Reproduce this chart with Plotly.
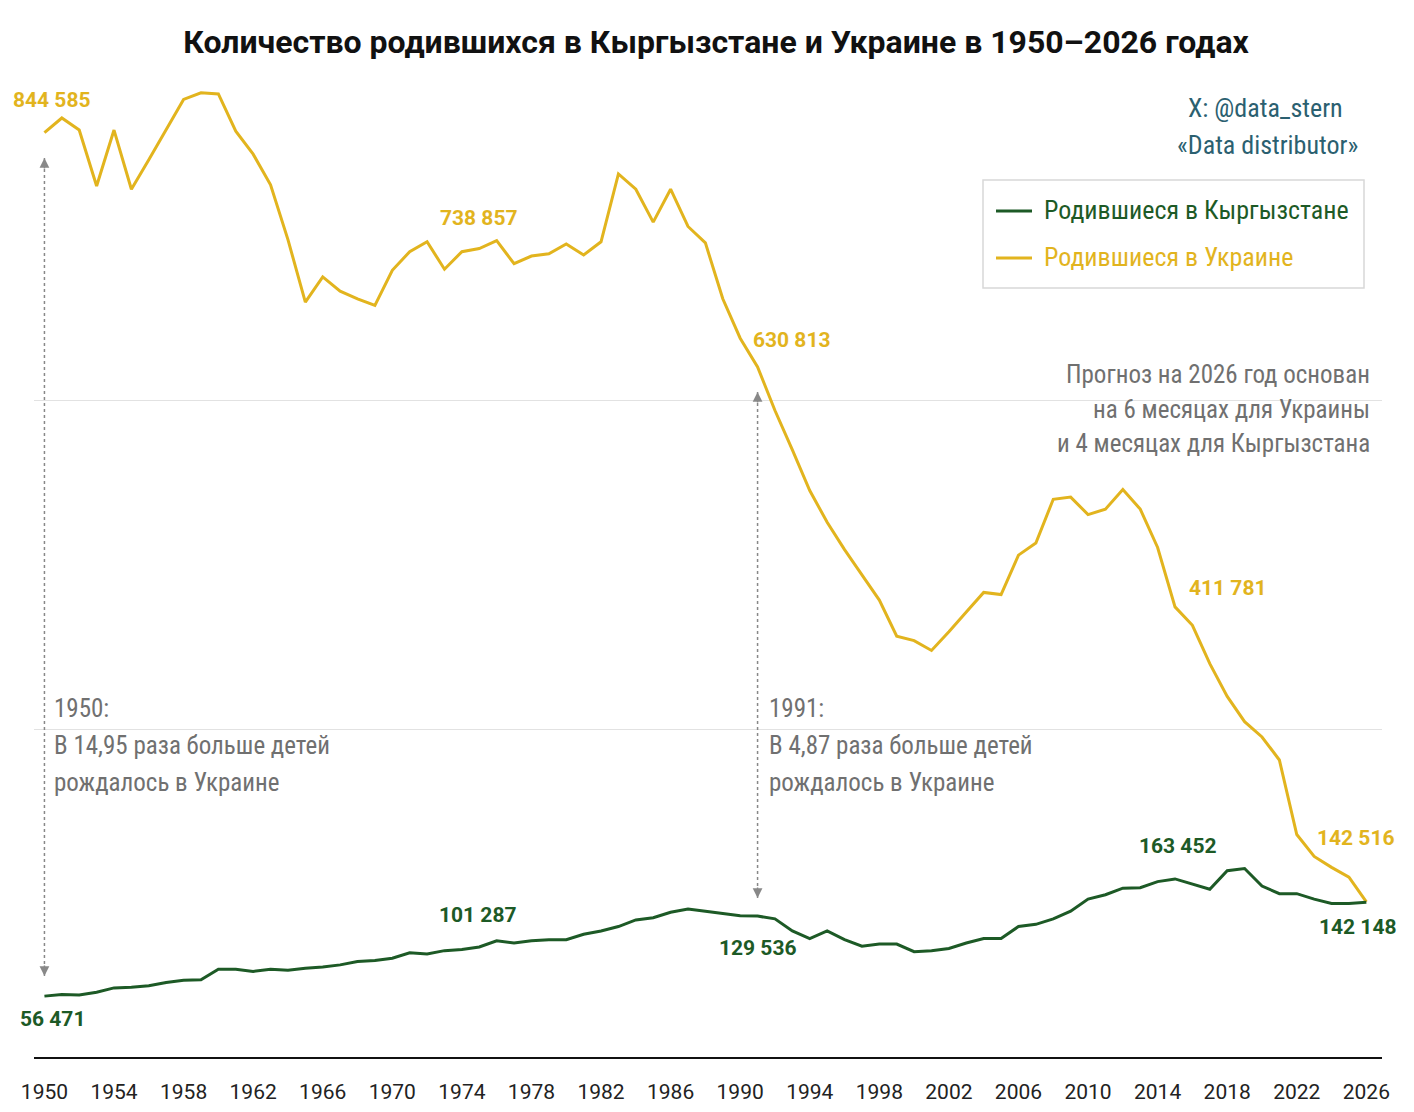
import plotly.graph_objects as go

years = list(range(1950, 2027))
ukraine = [844585, 858000, 847000, 796000, 847000, 793000, 820000, 847000, 875000, 881000,
           880000, 846000, 825000, 797000, 747000, 690000, 713000, 700000, 693000, 687000,
           719000, 736000, 745000, 720000, 736000, 738857, 746000, 725000, 732000, 734000,
           743000, 733000, 745000, 807000, 793000, 763000, 793000, 759000, 744000, 693000,
           657000, 630813, 591000, 555000, 518000, 489000, 464000, 441000, 418000, 385000,
           381000, 372000, 389000, 407000, 425000, 423000, 459000, 470000, 510000, 512000,
           496000, 501000, 519000, 501000, 466000, 411781, 395000, 360000, 330000, 307000,
           293000, 272000, 204000, 184000, 174000, 165000, 142516]
kyrgyz = [56471, 58000, 57500, 60000, 64000, 64500, 66000, 69000, 71000, 71500,
          81000, 81000, 79000, 81000, 80000, 82000, 83000, 85000, 88000, 89000,
          91000, 96000, 95000, 98000, 99000, 101287, 107000, 105000, 107000, 108000,
          108000, 113000, 116000, 120000, 126000, 128000, 133000, 136000, 134000, 132000,
          129800, 129536, 127000, 116000, 109000, 116000, 108000, 102000, 104000, 104000,
          97000, 98000, 100000, 105000, 109000, 109000, 120000, 122000, 127000, 134000,
          145000, 149000, 155000, 155500, 161000, 163452, 159000, 154000, 171000, 173000,
          157000, 150000, 150000, 145000, 141000, 141000, 142148]
tick_years = list(range(1950, 2027, 4))

YEL = "#e2b41e"
GRN = "#1d5a26"
GRAY = "#707070"
FONT = "Liberation Sans Narrow, Roboto Condensed, Roboto, sans-serif"

OFF = 8  # page offset
L, R, T, B = 34, 1382, 72, 1058
X0, X1 = 1949.4, 2026.9
def py2y(py): return (B - py) / (B - T) * 900000
def px2p(px): return (px - L) / (R - L)
def py2p(py): return (B - py) / (B - T)

fig = go.Figure()
fig.add_trace(go.Scatter(x=years, y=ukraine, mode="lines", line=dict(color=YEL, width=3), showlegend=False))
fig.add_trace(go.Scatter(x=years, y=kyrgyz, mode="lines", line=dict(color=GRN, width=3), showlegend=False))

ann = []
def lab(px, py, text, color, size=21, bold=True, xanchor="center", fam="Roboto"):
    ann.append(dict(x=px2p(px), y=py2p(py), xref="paper", yref="paper", text=f"<b>{text}</b>" if bold else text,
                    showarrow=False, font=dict(color=color, size=size, family=fam), xanchor=xanchor, yanchor="middle"))

for px, py, t in [(52, 100, "844 585"), (479, 218, "738 857"), (792, 340, "630 813"),
                  (1228, 588, "411 781"), (1356, 838, "142 516")]:
    lab(px, py, t, YEL)
for px, py, t in [(52, 1019, "56 471"), (478, 915, "101 287"), (758, 948, "129 536"),
                  (1178, 846, "163 452"), (1358, 927, "142 148")]:
    lab(px, py, t, GRN)

for px, lines in [(52, ["1950:", "В 14,95 раза больше детей", "рождалось в Украине"]),
                  (767, ["1991:", "В 4,87 раза больше детей", "рождалось в Украине"])]:
    for i, s in enumerate(lines):
        lab(px, 708 + 37 * i, s, GRAY, size=25, bold=False, xanchor="left", fam=FONT)
for i, s in enumerate(["Прогноз на 2026 год основан", "на 6 месяцах для Украины", "и 4 месяцах для Кыргызстана"]):
    lab(1372, 375 + 34 * i, s, GRAY, size=25, bold=False, xanchor="right", fam=FONT)
lab(1345, 108, "X: @data_stern", "#2b6070", size=26, bold=False, xanchor="right", fam=FONT)
lab(1360, 145, "«Data distributor»", "#2b6070", size=26, bold=False, xanchor="right", fam=FONT)
lab(1042, 210, "Родившиеся в Кыргызстане", GRN, size=26, bold=False, xanchor="left", fam=FONT)
lab(1042, 257, "Родившиеся в Украине", YEL, size=26, bold=False, xanchor="left", fam=FONT)

shapes = [
    dict(type="rect", xref="paper", yref="paper", x0=px2p(983), x1=px2p(1364), y0=py2p(180), y1=py2p(288),
         line=dict(color="#d8d8d8", width=1.5)),
    dict(type="line", xref="paper", yref="paper", x0=px2p(996), x1=px2p(1032), y0=py2p(211), y1=py2p(211),
         line=dict(color=GRN, width=3)),
    dict(type="line", xref="paper", yref="paper", x0=px2p(996), x1=px2p(1032), y0=py2p(258), y1=py2p(258),
         line=dict(color=YEL, width=3)),
]
for yr, ytop, ybot in [(1950, py2y(158), py2y(976)), (1991, py2y(392), py2y(898))]:
    shapes.append(dict(type="line", x0=yr, x1=yr, y0=ybot, y1=ytop, line=dict(color="#888", width=1.5, dash="dot")))
    for yy, off in [(ytop, 12), (ybot, -12)]:
        ann.append(dict(x=yr, y=yy, ax=0, ay=off, xref="x", yref="y", text="", showarrow=True,
                        arrowhead=2, arrowsize=1.3, arrowwidth=1.5, arrowcolor="#888"))

fig.update_layout(
    width=1414, height=1112, plot_bgcolor="white", paper_bgcolor="white",
    margin=dict(l=L - OFF, r=1414 - R + OFF, t=T - OFF, b=1112 - B + OFF),
    title=dict(text="<b>Количество родившихся в Кыргызстане и Украине в 1950–2026 годах</b>",
               x=(716 - OFF) / 1414, xanchor="center", y=1 - (42 - OFF) / 1112, yanchor="middle",
               font=dict(size=32, color="#111", family="Roboto")),
    xaxis=dict(range=[X0, X1], tickvals=tick_years, showgrid=False, zeroline=False, showline=False,
               tickfont=dict(size=21, color="#222", family="Roboto"), ticks="", ticklabelstandoff=19),
    yaxis=dict(range=[0, 900000], tickvals=[0, 300000, 600000, 900000], showticklabels=False,
               gridcolor="#e2e2e2", gridwidth=1, zeroline=True, zerolinecolor="#111", zerolinewidth=2),
    annotations=ann, shapes=shapes,
)
fig.write_html("out.html")
